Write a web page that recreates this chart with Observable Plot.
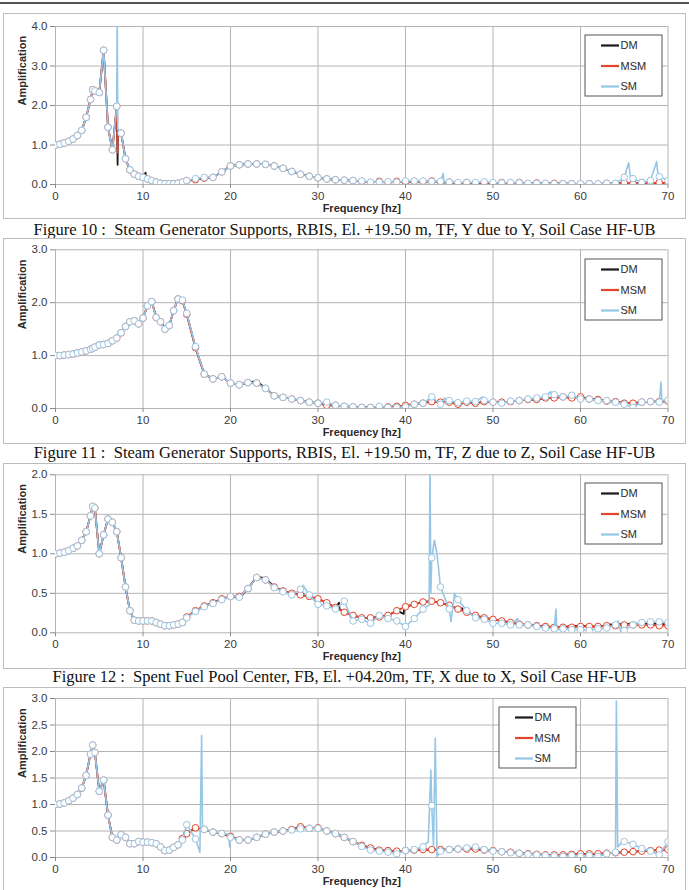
<!DOCTYPE html>
<html><head><meta charset="utf-8">
<script src="https://cdn.jsdelivr.net/npm/d3@7"></script>
<script src="https://cdn.jsdelivr.net/npm/@observablehq/plot@0.6"></script>
<style>
body{margin:0;background:#fff;width:689px;height:890px;position:relative;overflow:hidden;font-family:"Liberation Sans",Arial,sans-serif}
.topline{position:absolute;left:0;top:2px;width:689px;height:2px;background:#555}
.panel{position:absolute;left:3px;width:681px;border:1px solid #bdbdbd;background:#fff;overflow:hidden}
.panel svg{display:block}
.cap{position:absolute;left:0;width:689px;text-align:center;font-family:"Liberation Serif","Times New Roman",serif;font-size:16.5px;color:#111;line-height:18px;white-space:pre}
</style></head><body>
<div class="topline"></div>
<script>
// ---------- data ----------
const freq = [0,0.5,1,1.5,2,2.5,3,3.5,4,4.25,4.5,5,5.5,6,6.5,7,7.5,8,8.5,9,9.5,10,10.5,11,11.5,12,12.5,13,13.5,14,14.5,15,
16,17,18,19,20,21,22,23,24,25,26,27,28,29,30,31,32,33,34,35,36,37,38,39,40,41,42,43,44,45,46,47,48,49,50,51,52,53,54,55,56,57,58,59,60,61,62,63,64,65,66,67,68,69,70];
const xTicks = [0,10,20,30,40,50,60,70];
const seriesNames = ["DM","MSM","SM"];
const captions = [
  "Figure 10 :  Steam Generator Supports, RBIS, El. +19.50 m, TF, Y due to Y, Soil Case HF-UB",
  "Figure 11 :  Steam Generator Supports, RBIS, El. +19.50 m, TF, Z due to Z, Soil Case HF-UB",
  "Figure 12 :  Spent Fuel Pool Center, FB, El. +04.20m, TF, X due to X, Soil Case HF-UB"
];

// Panel 1 (Y due to Y)
const p1_yTicks = [0,1,2,3,4];
const p1_sm = [1.00,1.02,1.05,1.09,1.15,1.24,1.37,1.70,2.15,2.40,2.37,2.33,3.40,1.45,0.88,1.98,1.30,0.65,0.37,0.26,0.21,0.18,0.14,0.10,0.06,0.03,0.02,0.02,0.02,0.03,0.06,0.10,
0.15,0.18,0.18,0.32,0.47,0.50,0.52,0.52,0.51,0.47,
0.41,0.33,0.26,0.21,0.17,0.14,0.12,0.11,0.10,0.09,
0.06,0.06,0.07,0.06,0.09,0.09,0.09,0.08,0.08,0.06,
0.05,0.05,0.05,0.07,0.05,0.04,0.05,0.04,0.03,0.03,
0.03,0.02,0.02,0.02,0.02,0.02,0.02,0.03,0.03,0.18,
0.15,0.05,0.10,0.20,0.10];
const p1_msm = [1.00,1.02,1.05,1.09,1.15,1.24,1.37,1.70,2.15,2.40,2.37,2.33,3.40,1.45,0.88,1.98,1.30,0.65,0.37,0.26,0.21,0.18,0.14,0.10,0.06,0.03,0.02,0.02,0.02,0.03,0.06,0.10,
0.12,0.16,0.18,0.32,0.47,0.50,0.52,0.52,0.51,0.47,
0.41,0.33,0.26,0.21,0.17,0.14,0.12,0.11,0.10,0.08,
0.05,0.08,0.05,0.08,0.05,0.08,0.06,0.09,0.05,0.06,
0.03,0.05,0.03,0.05,0.03,0.05,0.03,0.05,0.02,0.04,
0.02,0.03,0.02,0.02,0.01,0.02,0.01,0.03,0.02,0.04,
0.02,0.05,0.03,0.05,0.03];
const p1_dm = p1_msm.slice();
const p1_smSpikeF = [7.05,7.12,44.3,44.4,65.5,65.7,68.7,68.85];
const p1_smSpikeV = [4.5,1.4,0.28,0.07,0.55,0.2,0.58,0.25];
const p1_msmSpikeF = [7.1,7.13];
const p1_msmSpikeV = [0.8,1.38];
const p1_dmSpikeF = [7.1,7.13,10.3,10.33];
const p1_dmSpikeV = [0.5,1.38,0.3,0.17];

// Panel 2 (Z due to Z)
const p2_yTicks = [0,1,2,3];
const p2_sm = [1.00,1.00,1.01,1.02,1.03,1.05,1.07,1.09,1.12,1.14,1.16,1.20,1.21,1.23,1.28,1.33,1.43,1.55,1.64,1.66,1.60,1.71,1.94,2.02,1.72,1.64,1.50,1.57,1.85,2.07,2.05,1.80,
1.17,0.65,0.56,0.60,0.48,0.45,0.49,0.48,0.38,0.24,
0.21,0.18,0.15,0.12,0.10,0.12,0.06,0.04,0.03,0.02,
0.02,0.04,0.02,0.02,0.03,0.08,0.10,0.22,0.08,0.15,
0.11,0.14,0.13,0.15,0.12,0.10,0.14,0.15,0.18,0.20,
0.22,0.26,0.22,0.25,0.18,0.18,0.15,0.15,0.12,0.08,
0.02,0.12,0.13,0.12,0.16];
const p2_msm = [1.00,1.00,1.01,1.02,1.03,1.05,1.07,1.09,1.12,1.14,1.16,1.20,1.21,1.23,1.28,1.33,1.43,1.55,1.64,1.66,1.60,1.71,1.94,2.02,1.72,1.64,1.50,1.57,1.85,2.07,2.04,1.78,
1.15,0.65,0.56,0.60,0.48,0.45,0.49,0.48,0.38,0.24,
0.21,0.18,0.15,0.12,0.10,0.06,0.06,0.04,0.03,0.02,
0.02,0.01,0.03,0.04,0.06,0.08,0.10,0.13,0.12,0.12,
0.08,0.12,0.10,0.13,0.12,0.12,0.13,0.15,0.17,0.17,
0.20,0.20,0.22,0.20,0.22,0.18,0.17,0.14,0.13,0.10,
0.10,0.12,0.13,0.13,0.14];
const p2_dm = [1.00,1.00,1.01,1.02,1.03,1.05,1.07,1.09,1.12,1.14,1.16,1.20,1.21,1.23,1.28,1.33,1.43,1.55,1.64,1.66,1.60,1.71,1.94,2.02,1.74,1.66,1.52,1.57,1.85,2.07,2.04,1.78,
1.15,0.65,0.56,0.60,0.48,0.45,0.49,0.52,0.38,0.24,
0.21,0.18,0.15,0.12,0.10,0.06,0.06,0.04,0.03,0.02,
0.02,0.01,0.03,0.04,0.06,0.08,0.10,0.13,0.12,0.12,
0.08,0.12,0.10,0.13,0.12,0.12,0.13,0.15,0.17,0.17,
0.20,0.20,0.22,0.20,0.22,0.18,0.17,0.14,0.13,0.10,
0.10,0.12,0.13,0.13,0.14];
const p2_smSpikeF = [44.5,44.6,48.8,48.9,56.6,56.7,69.2,69.3];
const p2_smSpikeV = [0.2,0.09,0.22,0.13,0.32,0.22,0.5,0.15];
const p2_msmSpikeF = [];
const p2_msmSpikeV = [];
const p2_dmSpikeF = [];
const p2_dmSpikeV = [];

// Panel 3
const p3_yTicks = [0,0.5,1,1.5,2];
const p3_sm = [1.00,1.01,1.02,1.04,1.07,1.10,1.17,1.28,1.48,1.60,1.58,1.00,1.24,1.44,1.40,1.28,0.95,0.58,0.28,0.16,0.15,0.15,0.15,0.15,0.13,0.11,0.09,0.09,0.10,0.11,0.13,0.19,
0.27,0.33,0.37,0.42,0.46,0.45,0.56,0.70,0.67,0.57,
0.52,0.48,0.55,0.48,0.36,0.34,0.30,0.40,0.15,0.17,
0.12,0.22,0.18,0.15,0.08,0.18,0.30,0.95,0.58,0.30,
0.42,0.28,0.19,0.17,0.12,0.12,0.10,0.10,0.10,0.08,
0.06,0.05,0.05,0.04,0.04,0.03,0.05,0.06,0.10,0.03,
0.10,0.13,0.14,0.14,0.13];
const p3_msm = [1.00,1.01,1.02,1.04,1.07,1.10,1.17,1.28,1.48,1.60,1.58,1.00,1.24,1.44,1.40,1.28,0.95,0.58,0.28,0.16,0.15,0.15,0.15,0.15,0.13,0.11,0.09,0.09,0.10,0.11,0.13,0.20,
0.28,0.34,0.38,0.43,0.46,0.46,0.56,0.70,0.67,0.58,
0.53,0.50,0.48,0.46,0.43,0.38,0.32,0.26,0.22,0.19,
0.19,0.20,0.22,0.28,0.33,0.36,0.39,0.40,0.38,0.35,
0.30,0.26,0.22,0.19,0.17,0.15,0.13,0.11,0.10,0.09,
0.08,0.07,0.07,0.07,0.08,0.08,0.08,0.09,0.09,0.10,
0.10,0.10,0.10,0.09,0.09];
const p3_dm = [1.00,1.01,1.02,1.04,1.07,1.10,1.17,1.28,1.48,1.60,1.58,1.00,1.24,1.44,1.40,1.28,0.95,0.58,0.28,0.16,0.15,0.15,0.15,0.15,0.13,0.11,0.09,0.08,0.09,0.11,0.13,0.20,
0.28,0.34,0.38,0.43,0.46,0.44,0.56,0.71,0.69,0.58,
0.53,0.50,0.48,0.46,0.43,0.38,0.32,0.26,0.22,0.19,
0.19,0.20,0.22,0.28,0.33,0.36,0.39,0.40,0.38,0.35,
0.30,0.26,0.22,0.19,0.17,0.15,0.13,0.11,0.10,0.09,
0.08,0.07,0.07,0.09,0.08,0.09,0.07,0.10,0.11,0.11,
0.12,0.11,0.12,0.11,0.11];
const p3_smSpikeF = [28.3,32.6,42.7,42.8,42.9,43.3,43.6,45.2,45.6,52.8,57.2,57.3,64.3,64.6];
const p3_smSpikeV = [0.60,0.36,0.35,2.1,0.5,1.17,1.0,0.14,0.5,0.18,0.30,0.04,0.15,0.02];
const p3_msmSpikeF = [];
const p3_msmSpikeV = [];
const p3_dmSpikeF = [32.4,32.45,39.8,39.85,46.5,46.55];
const p3_dmSpikeV = [0.38,0.30,0.24,0.33,0.31,0.28];

// Panel 4
const p4_yTicks = [0,0.5,1,1.5,2,2.5,3];
const p4_sm = [1.00,1.01,1.03,1.07,1.12,1.19,1.31,1.55,1.95,2.12,1.98,1.25,1.46,0.80,0.38,0.33,0.43,0.38,0.26,0.26,0.30,0.29,0.29,0.28,0.26,0.20,0.13,0.14,0.19,0.24,0.33,0.62,
0.35,0.53,0.48,0.45,0.38,0.33,0.33,0.38,0.44,0.48,
0.50,0.52,0.54,0.55,0.55,0.50,0.45,0.38,0.30,0.21,
0.14,0.12,0.10,0.07,0.13,0.15,0.20,0.98,0.12,0.15,
0.16,0.18,0.20,0.15,0.12,0.11,0.09,0.08,0.06,0.05,
0.04,0.03,0.02,0.04,0.02,0.04,0.02,0.07,0.10,0.30,
0.25,0.17,0.12,0.05,0.30];
const p4_msm = [1.00,1.01,1.03,1.07,1.12,1.19,1.31,1.55,1.95,2.12,1.98,1.25,1.46,0.80,0.38,0.33,0.43,0.38,0.26,0.26,0.30,0.29,0.29,0.28,0.26,0.20,0.13,0.14,0.19,0.24,0.36,0.45,
0.56,0.53,0.48,0.45,0.40,0.33,0.33,0.38,0.44,0.48,
0.50,0.53,0.58,0.55,0.56,0.50,0.45,0.38,0.30,0.23,
0.18,0.14,0.13,0.12,0.13,0.14,0.15,0.15,0.15,0.15,
0.16,0.16,0.16,0.14,0.13,0.11,0.10,0.08,0.07,0.06,
0.05,0.05,0.05,0.06,0.07,0.07,0.07,0.08,0.09,0.10,
0.11,0.12,0.13,0.14,0.15];
const p4_dm = p4_msm.slice();
const p4_smSpikeF = [16.5,16.7,16.8,19.8,19.9,42.6,42.9,43.2,43.4,43.6,64.1,64.25,64.7];
const p4_smSpikeV = [0.10,2.30,0.50,0.44,0.20,0.30,1.65,0.20,2.25,0.02,2.95,0.20,0.28];
const p4_msmSpikeF = [];
const p4_msmSpikeV = [];
const p4_dmSpikeF = [];
const p4_dmSpikeV = [];

// ---------- styling ----------
const C_DM = "#1a1a1a", C_MSM = "#e4442b", C_SM = "#96c6e6", C_SM_MK = "#9cc4e0", C_MSM_MK = "#e4442b";
const GRID = "#b4b4b4";
const FONT = "'Liberation Sans', Arial, sans-serif";

function merge(vals, exF, exV) {
  const pts = freq.map((f, i) => ({f, v: vals[i]}));
  exF.forEach((f, i) => pts.push({f, v: exV[i]}));
  return pts.sort((a, b) => a.f - b.f);
}
function pts(vals) { return freq.map((f, i) => ({f, v: vals[i]})); }

const panels = [
  {boxTop: 13, boxBottom: 218, gridTop: 26, gridBottom: 184, yTicks: p1_yTicks,
   dm: merge(p1_dm, p1_dmSpikeF, p1_dmSpikeV), msm: merge(p1_msm, p1_msmSpikeF, p1_msmSpikeV), sm: merge(p1_sm, p1_smSpikeF, p1_smSpikeV),
   msmPts: pts(p1_msm), smPts: pts(p1_sm), legend: [585, 35]},
  {boxTop: 238, boxBottom: 443, gridTop: 249.3, gridBottom: 408, yTicks: p2_yTicks,
   dm: merge(p2_dm, p2_dmSpikeF, p2_dmSpikeV), msm: merge(p2_msm, p2_msmSpikeF, p2_msmSpikeV), sm: merge(p2_sm, p2_smSpikeF, p2_smSpikeV),
   msmPts: pts(p2_msm), smPts: pts(p2_sm), legend: [585, 259]},
  {boxTop: 463, boxBottom: 668, gridTop: 474.3, gridBottom: 632.3, yTicks: p3_yTicks,
   dm: merge(p3_dm, p3_dmSpikeF, p3_dmSpikeV), msm: merge(p3_msm, p3_msmSpikeF, p3_msmSpikeV), sm: merge(p3_sm, p3_smSpikeF, p3_smSpikeV),
   msmPts: pts(p3_msm), smPts: pts(p3_sm), legend: [585, 483]},
  {boxTop: 687, boxBottom: 893, gridTop: 698, gridBottom: 857, yTicks: p4_yTicks,
   dm: merge(p4_dm, p4_dmSpikeF, p4_dmSpikeV), msm: merge(p4_msm, p4_msmSpikeF, p4_msmSpikeV), sm: merge(p4_sm, p4_smSpikeF, p4_smSpikeV),
   msmPts: pts(p4_msm), smPts: pts(p4_sm), legend: [499, 707]}
];
const capCenters = [229.5, 453, 677];

panels.forEach((p, k) => {
  const div = document.createElement("div");
  div.className = "panel";
  div.style.top = p.boxTop + "px";
  const H = p.boxBottom - p.boxTop - 1;
  div.style.height = H + "px";
  document.body.appendChild(div);
  const innerTop = p.boxTop + 1;
  const mt = p.gridTop - innerTop;
  const mb = H - (p.gridBottom - innerTop);
  const yMax = p.yTicks[p.yTicks.length - 1];
  const chart = Plot.plot({
    width: 681, height: H,
    marginLeft: 51, marginRight: 17.5, marginTop: mt, marginBottom: mb,
    x: {domain: [0, 70]},
    y: {domain: [0, yMax]},
    style: {fontFamily: FONT, fontSize: "11.5px", color: "#3a3a3a", background: "white", overflow: "visible"},
    marks: [
      Plot.gridX(xTicks, {stroke: GRID, strokeOpacity: 1}),
      Plot.gridY(p.yTicks, {stroke: GRID, strokeOpacity: 1}),
      Plot.axisX(xTicks, {tickSize: 4, tickPadding: 3, label: null, stroke: "#8a8a8a", fontSize: 11.5}),
      Plot.axisY(p.yTicks, {tickSize: 5, tickPadding: 3, label: null, stroke: "#8a8a8a", fontSize: 11.5, tickFormat: d3.format(".1f")}),
      Plot.lineY(p.dm, {x: "f", y: "v", stroke: C_DM, strokeWidth: 1.8, clip: true}),
      Plot.lineY(p.msm, {x: "f", y: "v", stroke: C_MSM, strokeWidth: 1.8, clip: true}),
      Plot.dot(p.msmPts, {x: "f", y: "v", r: 3.3, fill: "white", stroke: C_MSM_MK, strokeWidth: 1, clip: true}),
      Plot.lineY(p.sm, {x: "f", y: "v", stroke: C_SM, strokeWidth: 1.6, clip: true}),
      Plot.dot(p.smPts, {x: "f", y: "v", r: 3.3, fill: "white", stroke: C_SM_MK, strokeWidth: 1, clip: true}),
      Plot.text(["Frequency [hz]"], {text: d => d, frameAnchor: "bottom", dy: 27, fontWeight: "bold", fontSize: 11, fill: "#2a2a2a"}),
      Plot.text(["Amplification"], {text: d => d, frameAnchor: "left", dx: -33, rotate: -90, fontWeight: "bold", fontSize: 11, fill: "#2a2a2a"})
    ]
  });
  div.appendChild(chart);
  // legend
  const svg = d3.select(chart);
  const lx = p.legend[0] - 4, ly = p.legend[1] - innerTop;
  const g = svg.append("g").attr("transform", `translate(${lx},${ly})`);
  g.append("rect").attr("width", 77).attr("height", 61).attr("fill", "white").attr("stroke", "#555").attr("stroke-width", 1);
  const cols = [C_DM, C_MSM, C_SM];
  seriesNames.forEach((name, i) => {
    const yy = 10.5 + i * 20.5;
    g.append("line").attr("x1", 16).attr("x2", 34).attr("y1", yy).attr("y2", yy).attr("stroke", cols[i]).attr("stroke-width", 2.2);
    g.append("text").attr("x", 35.5).attr("y", yy).attr("dy", "0.35em").attr("text-anchor", "start")
      .attr("font-size", 11).attr("fill", "#2a2a2a").attr("font-family", FONT).text(name);
  });
  if (k < 3) {
    const c = document.createElement("div");
    c.className = "cap";
    c.style.top = (capCenters[k] - 9) + "px";
    c.textContent = captions[k];
    document.body.appendChild(c);
  }
});
</script>
</body></html>
